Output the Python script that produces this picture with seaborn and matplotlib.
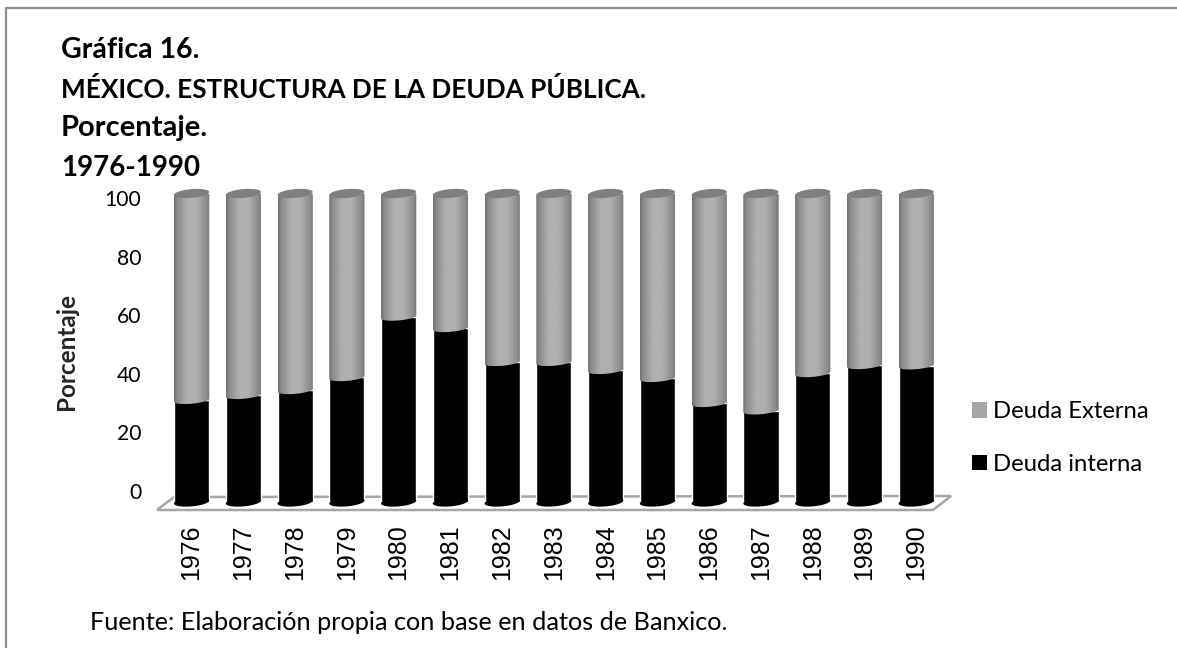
import numpy as np
import pandas as pd
import matplotlib
matplotlib.use('Agg')
import matplotlib.pyplot as plt
import seaborn as sns
from matplotlib.colors import LinearSegmentedColormap
from matplotlib.lines import Line2D
from matplotlib.patches import Patch, Polygon
from matplotlib.path import Path

years = [1976, 1977, 1978, 1979, 1980, 1981, 1982, 1983, 1984, 1985, 1986, 1987, 1988, 1989, 1990]
deuda_interna = [33.0, 34.6, 36.2, 40.4, 60.0, 56.3, 45.3, 45.3, 42.7, 40.1, 32.0, 29.6, 41.7, 44.3, 44.2]
deuda_externa = [67.0, 65.4, 63.8, 59.6, 40.0, 43.7, 54.7, 54.7, 57.3, 59.9, 68.0, 70.4, 58.3, 55.7, 55.8]
y_ticks = [0, 20, 40, 60, 80, 100]
title_lines = ['Gráfica 16.', 'MÉXICO. ESTRUCTURA DE LA DEUDA PÚBLICA.', 'Porcentaje.', '1976-1990']
fuente = 'Fuente: Elaboración propia con base en datos de Banxico.'

W, H = 1177, 648

sns.set_style('white')
plt.rcParams['font.family'] = ['Lato', 'DejaVu Sans']

df = pd.DataFrame({'year': years, 'interna': deuda_interna, 'externa': deuda_externa})
df['total'] = df['interna'] + df['externa']


def fx(x):
    return x / W


def fy(y):
    return 1 - y / H


def box(left, top, right, bottom):
    return [fx(left), fy(bottom), fx(right - left), (bottom - top) / H]


fig = plt.figure(figsize=(W / 100, H / 100), dpi=100)
fig.patch.set_facecolor('white')

# bars live in their own axes, the tick labels of a 3d excel chart sit a bit higher
ax = fig.add_axes(box(165.7, 193.5, 942.1, 502))
ax.patch.set_alpha(0)

sns.barplot(data=df, x='year', y='total', color='#9a9a9a', saturation=1, width=0.68, ax=ax)
sns.barplot(data=df, x='year', y='interna', color='black', saturation=1, width=0.68, ax=ax)
ax.set_ylim(0, 100)
xlim = ax.get_xlim()

n = len(years)
gray_bars = ax.patches[:n]
black_bars = ax.patches[n:]

# cylinder look
cyl = LinearSegmentedColormap.from_list('cyl', [(0, '#727272'), (0.1, '#8c8c8c'), (0.36, '#b0b0b0'),
                                                (0.62, '#b0b0b0'), (0.9, '#8c8c8c'), (1, '#767676')])
px_unit = 308.5 / 100
b = 4.4 / px_unit
tilt = 1.5 / px_unit
t = np.linspace(0, 2 * np.pi, 80)


def ellipse(cx, cy, a):
    return np.column_stack([cx + a * np.cos(t), cy + b * np.sin(t) + tilt * np.cos(t)])


grad = np.linspace(0, 1, 128).reshape(1, -1)
for gb, kb in zip(gray_bars, black_bars):
    x0 = gb.get_x()
    w = gb.get_width()
    a = w / 2
    cx = x0 + a
    top = gb.get_height()
    val = kb.get_height()
    # outline of the gray part, its lower edge follows the front of the ellipse
    tt = np.linspace(0, np.pi, 40)
    lower = np.column_stack([cx + a * np.cos(tt), val - 0.8 * b * np.sin(tt) + tilt * np.cos(tt)])
    verts = np.vstack([[[x0, top - tilt], [x0 + w, top + tilt]], lower, [[x0, top - tilt]]])
    clip = Path(verts)
    gb.set_clip_path(clip, ax.transData)
    im = ax.imshow(grad, extent=[x0, x0 + w, 0, 103], aspect='auto', cmap=cyl, vmin=0, vmax=1, zorder=3)
    im.set_clip_path(clip, ax.transData)
    ax.add_patch(Polygon(ellipse(cx, top, a), closed=True, fc='#7f7f7f', ec='none', zorder=4, clip_on=False))
    ax.add_patch(Polygon(ellipse(cx, 0, a), closed=True, fc='black', ec='none', zorder=2, clip_on=False))

ax.set_xlim(xlim)
ax.set_ylim(0, 100)
ax.set_xlabel('')
ax.set_ylabel('')
ax.set_yticks([])
ax.tick_params(axis='x', length=0, pad=16, labelrotation=90)
for lab in ax.get_xticklabels():
    lab.set_family('Liberation Sans')
    lab.set_fontsize(18)
    lab.set_color('black')
sns.despine(ax=ax, left=True, bottom=True)

# floor of the 3d chart
floor = Polygon([(fx(157), fy(510)), (fx(174), fy(497)), (fx(951), fy(496)), (fx(933), fy(510))], closed=True,
                fc='white', ec='#a6a6a6', lw=1.8, transform=fig.transFigure, zorder=0, clip_on=False)
ax.add_patch(floor)

# y labels
axy = fig.add_axes(box(165.7, 198, 942.1, 491))
axy.patch.set_alpha(0)
axy.set_ylim(0, 100)
axy.set_xticks([])
axy.set_yticks(y_ticks)
axy.set_yticklabels([str(v) for v in y_ticks], fontsize=15.2, color='black')
axy.tick_params(axis='y', length=0, pad=17.5)
sns.despine(ax=axy, left=True, bottom=True)

# outer frame, only top and left show in the picture
fig.add_artist(Line2D([fx(6), fx(6), 1], [0, fy(8), fy(8)], color='#8f8f8f', lw=1.6))

for line, ypos, size in zip(title_lines, [50, 89, 128, 168], [20.5, 18.8, 21, 20]):
    fig.text(fx(61), fy(ypos), line, fontsize=size, fontweight='bold', va='center', ha='left', color='black')

fig.text(fx(66), fy(351), 'Porcentaje', fontsize=17.5, fontweight='bold', rotation=90, va='center', ha='center')
fig.text(fx(90), fy(623), fuente, fontsize=18.15, va='center', ha='left', color='black')

handles = [Patch(fc='#a6a6a6', ec='none'), Patch(fc='black', ec='none')]
fig.legend(handles, ['Deuda Externa', 'Deuda interna'], frameon=False, fontsize=17.2,
           loc='upper left', bbox_to_anchor=(fx(965), fy(394)), borderaxespad=0, borderpad=0.3,
           handlelength=0.63, handleheight=0.63, handletextpad=0.25, labelspacing=1.33, labelcolor='black')

fig.savefig('out.png', dpi=100)
